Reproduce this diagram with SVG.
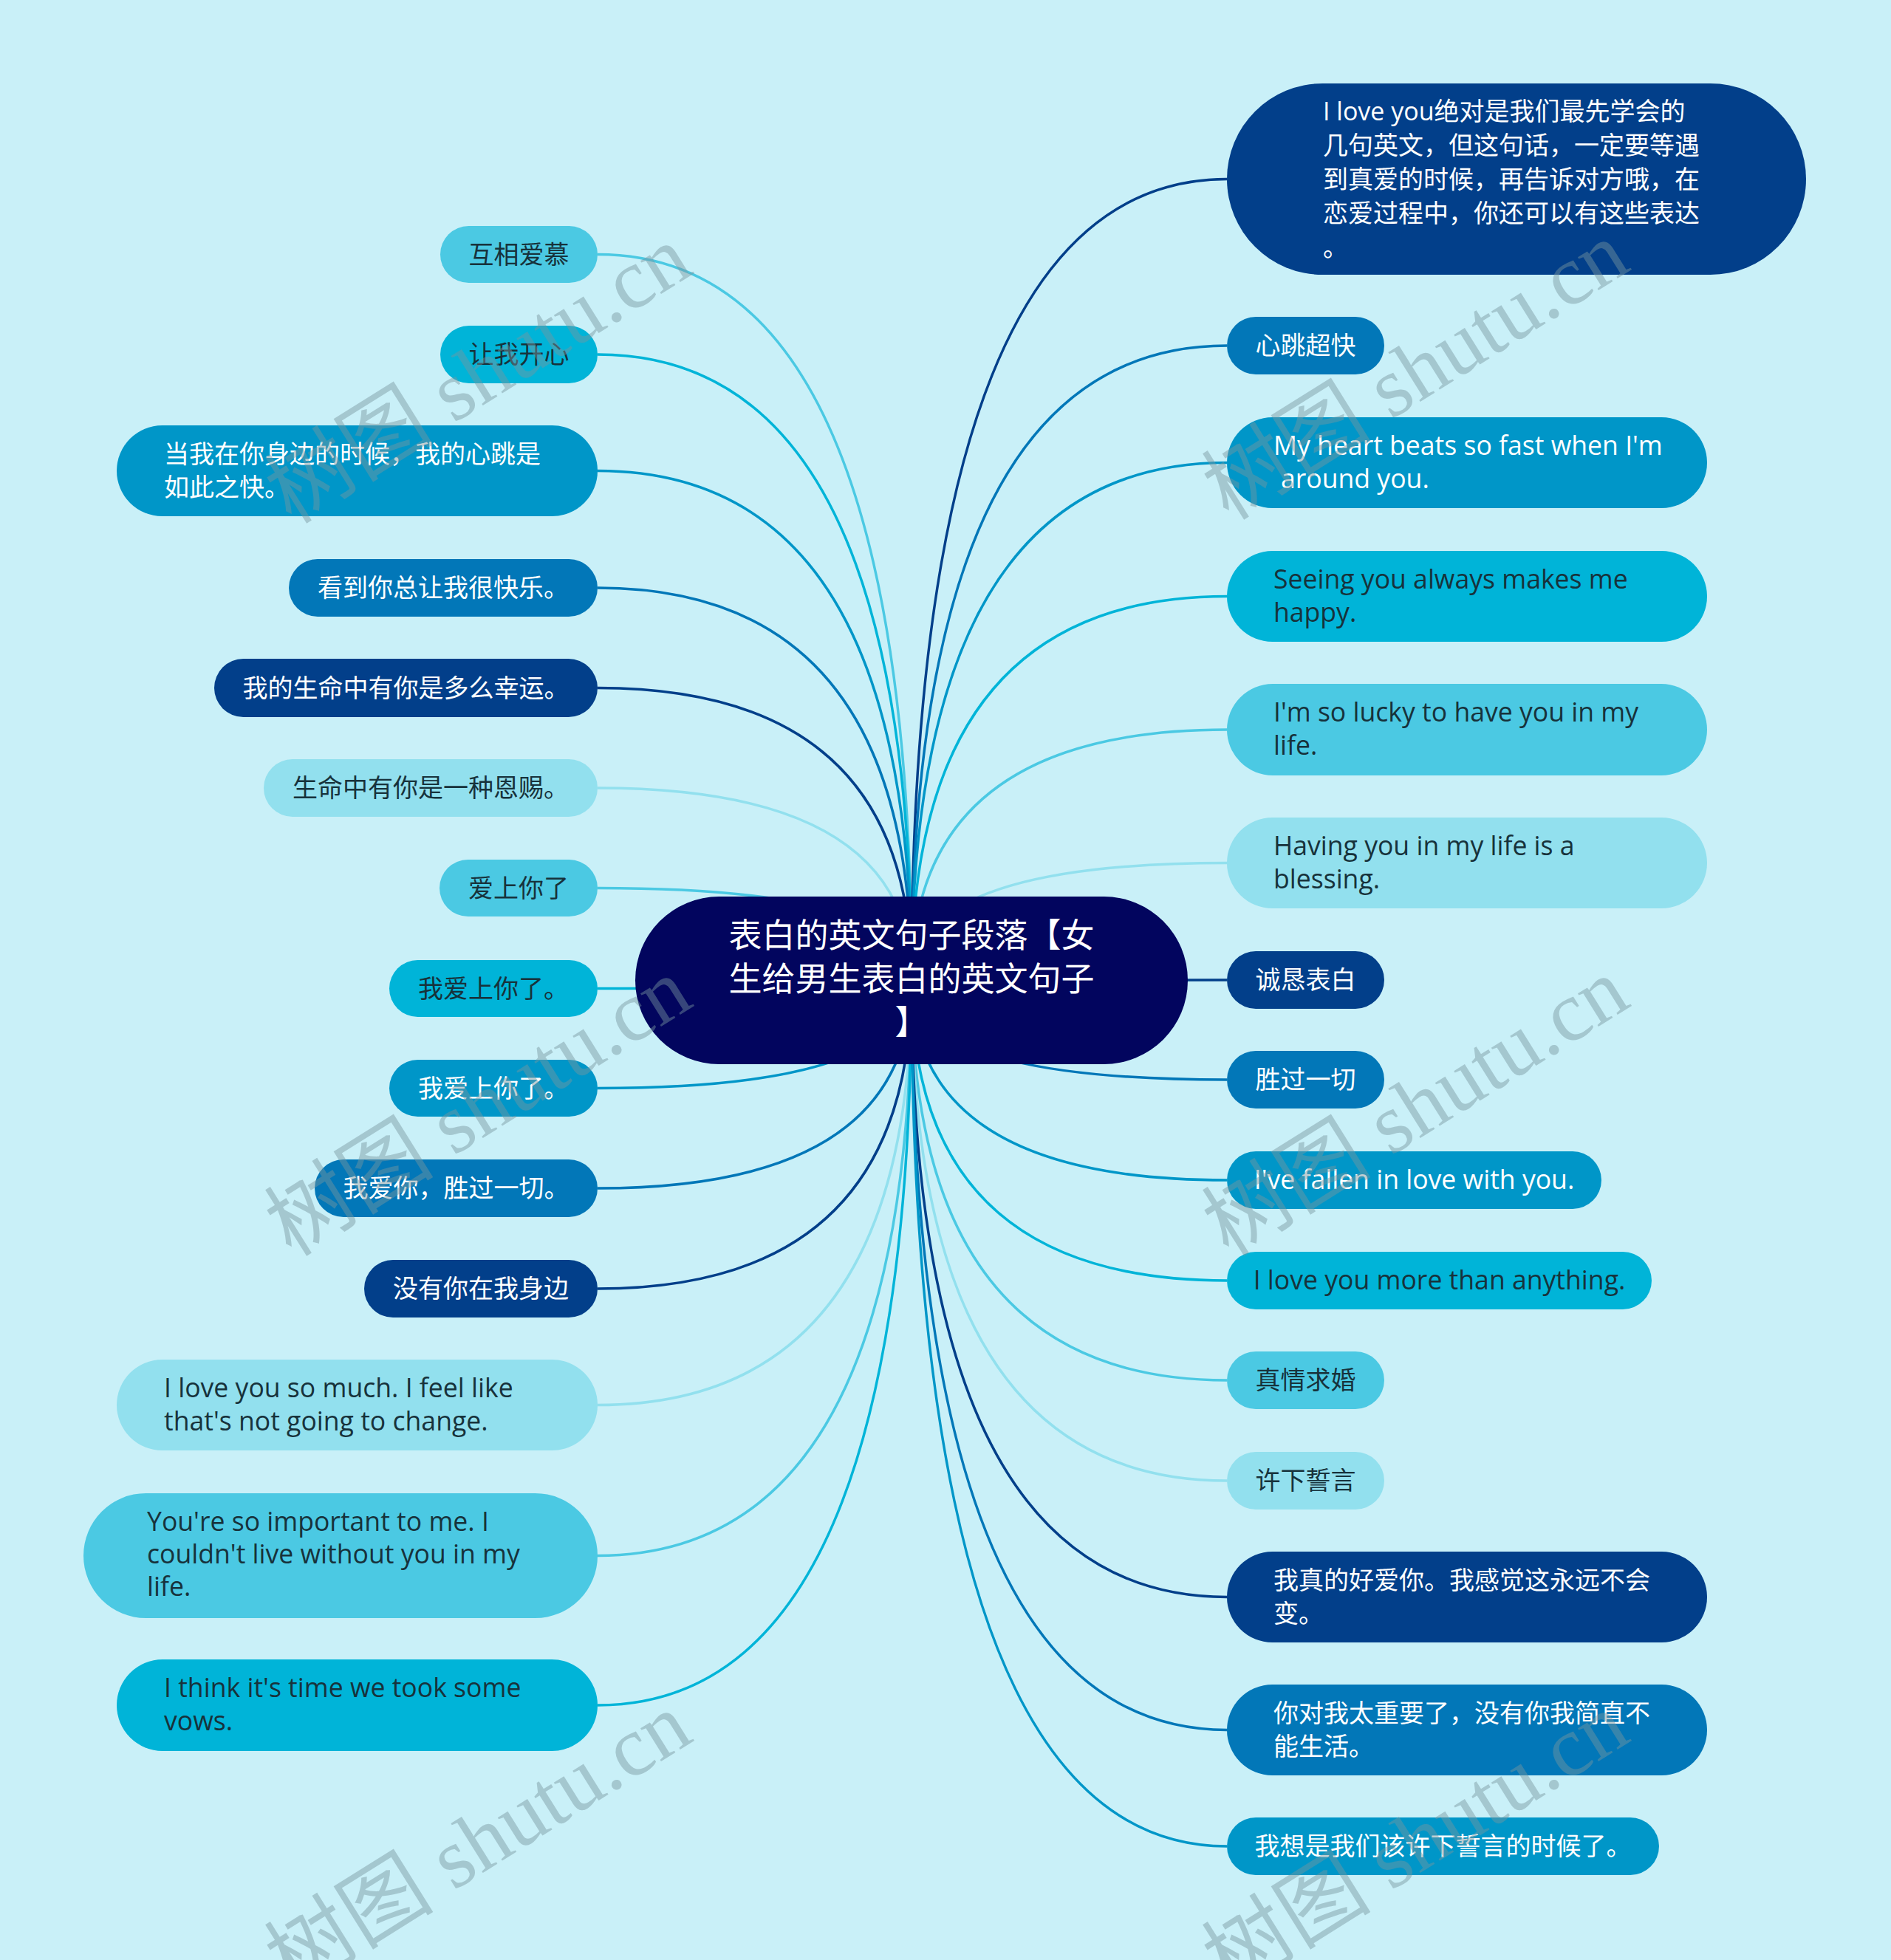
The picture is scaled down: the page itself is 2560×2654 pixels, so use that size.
<svg xmlns="http://www.w3.org/2000/svg" width="2560" height="2654" viewBox="0 0 2560 2654">
<style>
.c0{fill:#023f8a}.c1{fill:#0277b8}.c2{fill:#0096c8}.c3{fill:#00b4d8}.c4{fill:#4bc9e3}.c5{fill:#92e0ee}
.s0{stroke:#023f8a}.s1{stroke:#0277b8}.s2{stroke:#0096c8}.s3{stroke:#00b4d8}.s4{stroke:#4bc9e3}.s5{stroke:#92e0ee}
#connectors path{fill:none;stroke-width:3.5}
text{font-family:"Open Sans","Noto Sans CJK SC",sans-serif;font-size:34px}
.e{font-size:35.6px}
.w{fill:#ffffff}.d{fill:#17323b}
.m{text-anchor:middle}
.root{font-size:45px;fill:#ffffff;text-anchor:middle}
.wm{font-family:"Liberation Serif","Noto Sans CJK SC",serif;font-size:115px;fill:#78969f;opacity:0.45;text-anchor:middle}
</style>
<rect x="0" y="0" width="2560" height="2654" fill="#c9f0f8"/>
<g id="connectors">
<path class="s4" d="M1234 1327.5 Q1234 344.5 809 344.5"/>
<path class="s3" d="M1234 1327.5 Q1234 480 809 480"/>
<path class="s2" d="M1234 1327.5 Q1234 637.5 809 637.5"/>
<path class="s1" d="M1234 1327.5 Q1234 796 809 796"/>
<path class="s0" d="M1234 1327.5 Q1234 931.5 809 931.5"/>
<path class="s5" d="M1234 1327.5 Q1234 1067 809 1067"/>
<path class="s4" d="M1234 1327.5 Q1234 1202.5 809 1202.5"/>
<path class="s3" d="M1234 1327.5 Q1234 1338.5 809 1338.5"/>
<path class="s2" d="M1234 1327.5 Q1234 1473.5 809 1473.5"/>
<path class="s1" d="M1234 1327.5 Q1234 1609 809 1609"/>
<path class="s0" d="M1234 1327.5 Q1234 1745 809 1745"/>
<path class="s5" d="M1234 1327.5 Q1234 1902.5 809 1902.5"/>
<path class="s4" d="M1234 1327.5 Q1234 2106.5 809 2106.5"/>
<path class="s3" d="M1234 1327.5 Q1234 2309 809 2309"/>
<path class="s0" d="M1234 1327.5 Q1234 242.5 1661 242.5"/>
<path class="s1" d="M1234 1327.5 Q1234 468 1661 468"/>
<path class="s2" d="M1234 1327.5 Q1234 626.5 1661 626.5"/>
<path class="s3" d="M1234 1327.5 Q1234 807.5 1661 807.5"/>
<path class="s4" d="M1234 1327.5 Q1234 988 1661 988"/>
<path class="s5" d="M1234 1327.5 Q1234 1168.5 1661 1168.5"/>
<path class="s0" d="M1234 1327.5 Q1234 1327 1661 1327"/>
<path class="s1" d="M1234 1327.5 Q1234 1462 1661 1462"/>
<path class="s2" d="M1234 1327.5 Q1234 1598 1661 1598"/>
<path class="s3" d="M1234 1327.5 Q1234 1734 1661 1734"/>
<path class="s4" d="M1234 1327.5 Q1234 1869 1661 1869"/>
<path class="s5" d="M1234 1327.5 Q1234 2005 1661 2005"/>
<path class="s0" d="M1234 1327.5 Q1234 2162.5 1661 2162.5"/>
<path class="s1" d="M1234 1327.5 Q1234 2342.5 1661 2342.5"/>
<path class="s2" d="M1234 1327.5 Q1234 2500 1661 2500"/>
</g>
<g id="root">
<rect x="860" y="1214" width="748" height="227" rx="113.5" fill="#02055e"/>
<text class="root" x="1234" y="1283">表白的英文句子段落【女</text>
<text class="root" x="1234" y="1342">生给男生表白的英文句子</text>
<text class="root" x="1234" y="1401">】</text>
</g>
<g id="L1"><rect class="c4" x="596" y="306" width="213" height="77" rx="38.5"/><text class="d m" x="702.5" y="356.5">互相爱慕</text></g>
<g id="L2"><rect class="c3" x="596" y="441" width="213" height="78" rx="39"/><text class="d m" x="702.5" y="492">让我开心</text></g>
<g id="L3"><rect class="c2" x="158" y="576" width="651" height="123" rx="61.5"/><text class="w" x="222" y="626.5">当我在你身边的时候，我的心跳是</text><text class="w" x="222" y="671.5">如此之快。</text></g>
<g id="L4"><rect class="c1" x="391" y="757" width="418" height="78" rx="39"/><text class="w m" x="600" y="808">看到你总让我很快乐。</text></g>
<g id="L5"><rect class="c0" x="290" y="892" width="519" height="79" rx="39.5"/><text class="w m" x="549.5" y="943.5">我的生命中有你是多么幸运。</text></g>
<g id="L6"><rect class="c5" x="357" y="1028" width="452" height="78" rx="39"/><text class="d m" x="583" y="1079">生命中有你是一种恩赐。</text></g>
<g id="L7"><rect class="c4" x="595" y="1164" width="214" height="77" rx="38.5"/><text class="d m" x="702" y="1214.5">爱上你了</text></g>
<g id="L8"><rect class="c3" x="527" y="1300" width="282" height="77" rx="38.5"/><text class="d m" x="668" y="1350.5">我爱上你了。</text></g>
<g id="L9"><rect class="c2" x="527" y="1435" width="282" height="77" rx="38.5"/><text class="w m" x="668" y="1485.5">我爱上你了。</text></g>
<g id="L10"><rect class="c1" x="426" y="1570" width="383" height="78" rx="39"/><text class="w m" x="617.5" y="1621">我爱你，胜过一切。</text></g>
<g id="L11"><rect class="c0" x="493" y="1706" width="316" height="78" rx="39"/><text class="w m" x="651" y="1757">没有你在我身边</text></g>
<g id="L12"><rect class="c5" x="158" y="1841" width="651" height="123" rx="61.5"/><text class="d e" x="222" y="1891.5">I love you so much. I feel like</text><text class="d e" x="222" y="1936.5">that's not going to change.</text></g>
<g id="L13"><rect class="c4" x="113" y="2022" width="696" height="169" rx="84.5"/><text class="d e" x="199" y="2072.5">You're so important to me. I</text><text class="d e" x="199" y="2116.5">couldn't live without you in my</text><text class="d e" x="199" y="2160.5">life.</text></g>
<g id="L14"><rect class="c3" x="158" y="2247" width="651" height="124" rx="62"/><text class="d e" x="222" y="2298">I think it's time we took some</text><text class="d e" x="222" y="2343">vows.</text></g>
<g id="R1"><rect class="c0" x="1661" y="113" width="784" height="259" rx="129.5"/><text class="w" x="1791" y="163">I love you绝对是我们最先学会的</text><text class="w" x="1791" y="209">几句英文，但这句话，一定要等遇</text><text class="w" x="1791" y="255">到真爱的时候，再告诉对方哦，在</text><text class="w" x="1791" y="301">恋爱过程中，你还可以有这些表达</text><text class="w" x="1791" y="347">。</text></g>
<g id="R2"><rect class="c1" x="1661" y="429" width="213" height="78" rx="39"/><text class="w m" x="1767.5" y="480">心跳超快</text></g>
<g id="R3"><rect class="c2" x="1661" y="565" width="650" height="123" rx="61.5"/><text class="w e" x="1724" y="615.5">My heart beats so fast when I'm</text><text class="w e" x="1734" y="660.5">around you.</text></g>
<g id="R4"><rect class="c3" x="1661" y="746" width="650" height="123" rx="61.5"/><text class="d e" x="1724" y="796.5">Seeing you always makes me</text><text class="d e" x="1724" y="841.5">happy.</text></g>
<g id="R5"><rect class="c4" x="1661" y="926" width="650" height="124" rx="62"/><text class="d e" x="1724" y="977">I'm so lucky to have you in my</text><text class="d e" x="1724" y="1022">life.</text></g>
<g id="R6"><rect class="c5" x="1661" y="1107" width="650" height="123" rx="61.5"/><text class="d e" x="1724" y="1157.5">Having you in my life is a</text><text class="d e" x="1724" y="1202.5">blessing.</text></g>
<g id="R7"><rect class="c0" x="1661" y="1288" width="213" height="78" rx="39"/><text class="w m" x="1767.5" y="1339">诚恳表白</text></g>
<g id="R8"><rect class="c1" x="1661" y="1423" width="213" height="78" rx="39"/><text class="w m" x="1767.5" y="1474">胜过一切</text></g>
<g id="R9"><rect class="c2" x="1661" y="1559" width="507" height="78" rx="39"/><text class="w m e" x="1914.5" y="1610">I've fallen in love with you.</text></g>
<g id="R10"><rect class="c3" x="1661" y="1695" width="575" height="78" rx="39"/><text class="d m e" x="1948.5" y="1746">I love you more than anything.</text></g>
<g id="R11"><rect class="c4" x="1661" y="1830" width="213" height="78" rx="39"/><text class="d m" x="1767.5" y="1881">真情求婚</text></g>
<g id="R12"><rect class="c5" x="1661" y="1966" width="213" height="78" rx="39"/><text class="d m" x="1767.5" y="2017">许下誓言</text></g>
<g id="R13"><rect class="c0" x="1661" y="2101" width="650" height="123" rx="61.5"/><text class="w" x="1724" y="2151.5">我真的好爱你。我感觉这永远不会</text><text class="w" x="1724" y="2196.5">变。</text></g>
<g id="R14"><rect class="c1" x="1661" y="2281" width="650" height="123" rx="61.5"/><text class="w" x="1724" y="2331.5">你对我太重要了，没有你我简直不</text><text class="w" x="1724" y="2376.5">能生活。</text></g>
<g id="R15"><rect class="c2" x="1661" y="2461" width="585" height="78" rx="39"/><text class="w m" x="1953.5" y="2512">我想是我们该许下誓言的时候了。</text></g>
<g id="watermark">
<text class="wm" x="668" y="540" transform="rotate(-32 668 540)">树图 shutu.cn</text>
<text class="wm" x="1937" y="535" transform="rotate(-32 1937 535)">树图 shutu.cn</text>
<text class="wm" x="668" y="1532" transform="rotate(-32 668 1532)">树图 shutu.cn</text>
<text class="wm" x="1937" y="1532" transform="rotate(-32 1937 1532)">树图 shutu.cn</text>
<text class="wm" x="668" y="2527" transform="rotate(-32 668 2527)">树图 shutu.cn</text>
<text class="wm" x="1937" y="2527" transform="rotate(-32 1937 2527)">树图 shutu.cn</text>
</g>
</svg>
